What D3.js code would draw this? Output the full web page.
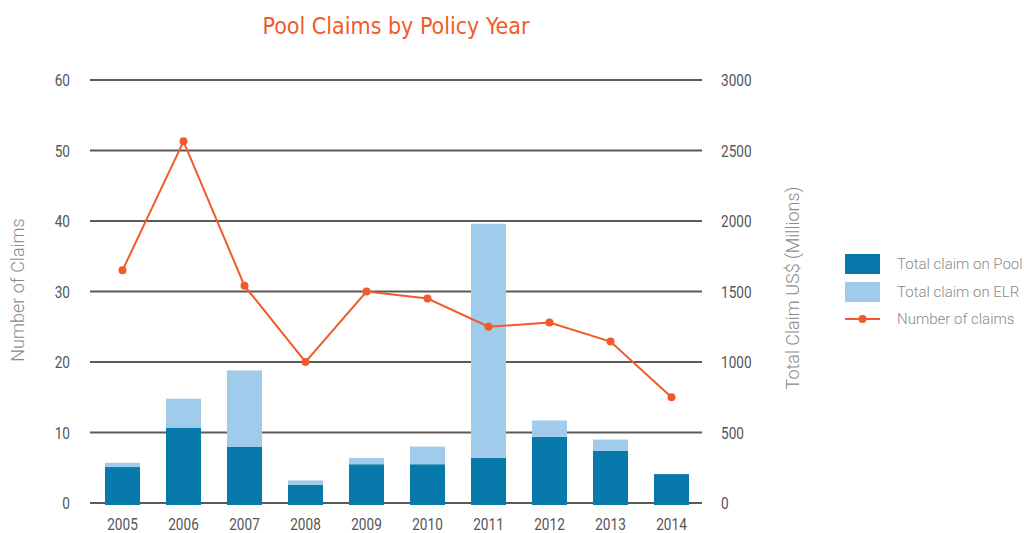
<!DOCTYPE html>
<html>
<head>
<meta charset="utf-8">
<script src="https://cdn.jsdelivr.net/npm/d3@7"></script>
<style>
  body { margin: 0; background: #fff; }
  svg { display: block; }
  .tick text, .year { font-family: "Roboto", "Liberation Sans", sans-serif; fill: #555; }
  .axis-title, .legend text { font-family: "Roboto", "Liberation Sans", sans-serif; font-weight: 300; fill: #8a8a8a; }
</style>
</head>
<body>
<svg id="chart" width="1024" height="533"></svg>
<script>
// data
var years = ["2005", "2006", "2007", "2008", "2009", "2010", "2011", "2012", "2013", "2014"];
var claimPool = [255, 535, 400, 130, 275, 275, 320, 470, 370, 205];   // US$ millions
var claimELR = [30, 205, 540, 30, 45, 125, 1660, 115, 80, 0];          // stacked on top
var numClaims = [33, 51.3, 30.8, 20, 30, 29, 25, 25.6, 22.9, 15];
var leftTicks = [0, 10, 20, 30, 40, 50, 60];
var rightTicks = [0, 500, 1000, 1500, 2000, 2500, 3000];

var dark = "#0779aa", light = "#a0cbeb", orange = "#f15a29";

var svg = d3.select("#chart");

var x = d3.scaleBand().domain(years).range([92, 702]).paddingInner(0.426).paddingOuter(0.213);
var yLeft = d3.scaleLinear().domain([0, 60]).range([503, 80]);
var yRight = d3.scaleLinear().domain([0, 3000]).range([503, 80]);

// title
svg.append("text")
  .attr("x", 396).attr("y", 34)
  .attr("text-anchor", "middle")
  .style("font-family", "'DejaVu Sans Condensed', sans-serif")
  .style("font-size", "23px")
  .style("fill", orange)
  .text("Pool Claims by Policy Year");

// gridlines
svg.selectAll(".grid")
    .data(leftTicks)
  .enter().append("line")
    .attr("x1", 90).attr("x2", 702)
    .attr("y1", function(d) { return yLeft(d); })
    .attr("y2", function(d) { return yLeft(d); })
    .attr("stroke", "#5a5a5a")
    .attr("stroke-width", 2);

// axes (labels only), narrowed to look condensed
var gL = svg.append("g").attr("transform", "translate(70,0)")
  .call(d3.axisLeft(yLeft).tickValues(leftTicks).tickSize(0).tickPadding(0));
var gR = svg.append("g").attr("transform", "translate(721,0)")
  .call(d3.axisRight(yRight).tickValues(rightTicks).tickFormat(d3.format("d")).tickSize(0).tickPadding(0));
[gL, gR].forEach(function(g) {
  g.select(".domain").remove();
  g.selectAll("text")
    .style("font-size", "16px")
    .style("fill", "#555")
    .attr("dy", "0.35em")
    .attr("transform", "scale(0.85,1)");
});

// year labels
svg.selectAll(".year")
    .data(years)
  .enter().append("text")
    .attr("class", "year")
    .attr("transform", function(d) {
      return "translate(" + (x(d) + x.bandwidth() / 2) + ",530) scale(0.85,1)";
    })
    .attr("text-anchor", "middle")
    .style("font-size", "16px")
    .text(function(d) { return d; });

// stacked bars
var rows = years.map(function(y, i) { return { year: y, pool: claimPool[i], elr: claimELR[i] }; });
var stack = d3.stack().keys(["pool", "elr"])(rows);
var colors = { pool: dark, elr: light };

svg.selectAll(".layer")
    .data(stack)
  .enter().append("g")
    .attr("fill", function(d) { return colors[d.key]; })
  .selectAll("rect")
    .data(function(d) { return d; })
  .enter().append("rect")
    .attr("x", function(d) { return x(d.data.year); })
    .attr("width", x.bandwidth())
    .attr("y", function(d) { return yRight(d[1]); })
    .attr("height", function(d) { return yRight(d[0]) - yRight(d[1]) + (d[0] === 0 ? 2 : 0); });

// line
var line = d3.line()
  .x(function(d, i) { return x(years[i]) + x.bandwidth() / 2; })
  .y(function(d) { return yLeft(d); });

svg.append("path")
  .datum(numClaims)
  .attr("d", line)
  .attr("fill", "none")
  .attr("stroke", orange)
  .attr("stroke-width", 2);

svg.selectAll(".dot")
    .data(numClaims)
  .enter().append("circle")
    .attr("cx", function(d, i) { return x(years[i]) + x.bandwidth() / 2; })
    .attr("cy", function(d) { return yLeft(d); })
    .attr("r", 4)
    .attr("fill", orange);

// axis titles
svg.append("text")
  .attr("class", "axis-title")
  .attr("transform", "translate(24,290) rotate(-90)")
  .attr("text-anchor", "middle")
  .style("font-size", "18px")
  .text("Number of Claims");

svg.append("text")
  .attr("class", "axis-title")
  .attr("transform", "translate(799,288) rotate(-90)")
  .attr("text-anchor", "middle")
  .style("font-size", "18px")
  .text("Total Claim US$ (Millions)");

// legend
var legendItems = [
  { label: "Total claim on Pool", color: dark, type: "rect" },
  { label: "Total claim on ELR", color: light, type: "rect" },
  { label: "Number of claims", color: orange, type: "line" }
];
var lg = svg.append("g").attr("class", "legend");
legendItems.forEach(function(d, i) {
  var cy = 264 + i * 28;
  if (d.type === "rect") {
    lg.append("rect").attr("x", 845).attr("y", cy - 10).attr("width", 35).attr("height", 20).attr("fill", d.color);
  } else {
    cy = 319;
    lg.append("line").attr("x1", 845).attr("x2", 880).attr("y1", cy).attr("y2", cy)
      .attr("stroke", d.color).attr("stroke-width", 2);
    lg.append("circle").attr("cx", 862.5).attr("cy", cy).attr("r", 4).attr("fill", d.color);
  }
  lg.append("text").attr("x", 897).attr("y", cy + 5).style("font-size", "15px").text(d.label);
});
</script>
</body>
</html>
